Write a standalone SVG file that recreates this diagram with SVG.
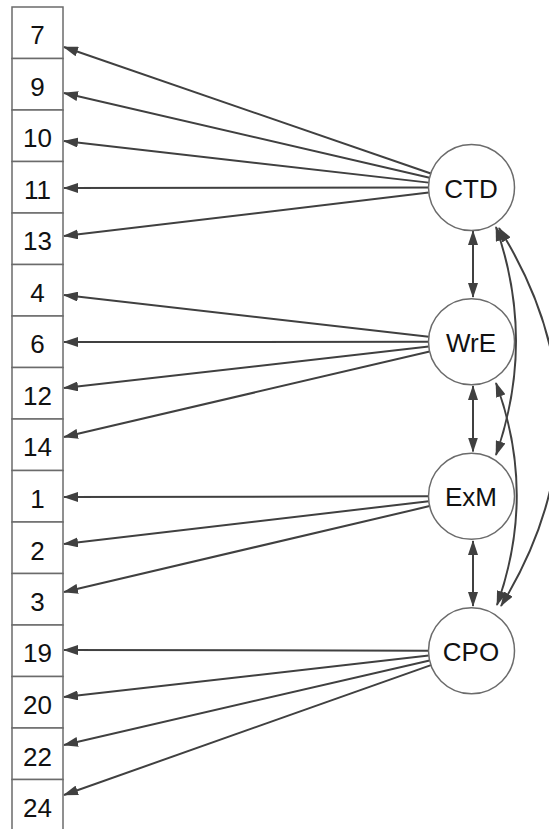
<svg xmlns="http://www.w3.org/2000/svg" width="549" height="829" viewBox="0 0 549 829">
<style>
.box{fill:#fff;stroke:#6b6b6b;stroke-width:1.5}
.lat{fill:#fff;stroke:#6b6b6b;stroke-width:1.5}
.lbl{font-family:"Liberation Sans",Arial,sans-serif;font-size:26px;fill:#111;text-anchor:middle}
.e{fill:none;stroke:#404040;stroke-width:2;marker-end:url(#ah)}
.d{fill:none;stroke:#404040;stroke-width:2;marker-start:url(#ah);marker-end:url(#ah)}
</style>
<defs>
<marker id="ah" markerUnits="userSpaceOnUse" viewBox="0 0 15 10" markerWidth="15" markerHeight="10" refX="14" refY="5" orient="auto-start-reverse">
<path d="M0,0 L15,5 L0,10 z" fill="#404040"/>
</marker>
</defs>
<rect width="549" height="829" fill="#fff"/>
<g id="connectors">
<path class="e" d="M430.84,173.48 L64,47"/>
<path class="e" d="M429.61,177.79 L64,93"/>
<path class="e" d="M428.78,182.62 L64,141"/>
<path class="e" d="M428.5,187.55 L64,188"/>
<path class="e" d="M428.8,192.58 L64,236"/>
<path class="e" d="M428.78,336.85 L64,295"/>
<path class="e" d="M428.5,341.78 L64,342"/>
<path class="e" d="M428.77,346.6 L64,388"/>
<path class="e" d="M429.63,351.54 L64,437"/>
<path class="e" d="M428.5,496.33 L64,497"/>
<path class="e" d="M428.79,501.25 L64,544"/>
<path class="e" d="M429.64,506.09 L64,592"/>
<path class="e" d="M428.5,650.67 L64,650"/>
<path class="e" d="M428.77,655.6 L64,697"/>
<path class="e" d="M429.61,660.44 L64,745"/>
<path class="e" d="M430.97,665.1 L64,795"/>
<path class="d" d="M473,231 L473,297"/>
<path class="d" d="M473,386 L473,451.5"/>
<path class="d" d="M473,541 L473,606"/>
<path class="d" d="M496,227 Q536,341 496,455"/>
<path class="d" d="M496,383 Q537,494 497,605"/>
<path class="d" d="M499,228 Q617,417 501,606"/>
</g>
<g id="n7"><rect class="box" x="12" y="7" width="51" height="51.5"/><text class="lbl" x="37.5" y="44">7</text></g>
<g id="n9"><rect class="box" x="12" y="58.5" width="51" height="51.5"/><text class="lbl" x="37.5" y="95.5">9</text></g>
<g id="n10"><rect class="box" x="12" y="110" width="51" height="51.5"/><text class="lbl" x="37.5" y="147">10</text></g>
<g id="n11"><rect class="box" x="12" y="161.5" width="51" height="51.5"/><text class="lbl" x="37.5" y="198.5">11</text></g>
<g id="n13"><rect class="box" x="12" y="213" width="51" height="51.5"/><text class="lbl" x="37.5" y="250">13</text></g>
<g id="n4"><rect class="box" x="12" y="264.5" width="51" height="51.5"/><text class="lbl" x="37.5" y="301.5">4</text></g>
<g id="n6"><rect class="box" x="12" y="316" width="51" height="51.5"/><text class="lbl" x="37.5" y="353">6</text></g>
<g id="n12"><rect class="box" x="12" y="367.5" width="51" height="51.5"/><text class="lbl" x="37.5" y="404.5">12</text></g>
<g id="n14"><rect class="box" x="12" y="419" width="51" height="51.5"/><text class="lbl" x="37.5" y="456">14</text></g>
<g id="n1"><rect class="box" x="12" y="470.5" width="51" height="51.5"/><text class="lbl" x="37.5" y="507.5">1</text></g>
<g id="n2"><rect class="box" x="12" y="522" width="51" height="51.5"/><text class="lbl" x="37.5" y="560">2</text></g>
<g id="n3"><rect class="box" x="12" y="573.5" width="51" height="51.5"/><text class="lbl" x="37.5" y="611">3</text></g>
<g id="n19"><rect class="box" x="12" y="625" width="51" height="51.5"/><text class="lbl" x="37.5" y="662">19</text></g>
<g id="n20"><rect class="box" x="12" y="676.5" width="51" height="51.5"/><text class="lbl" x="37.5" y="713.5">20</text></g>
<g id="n22"><rect class="box" x="12" y="728" width="51" height="51.5"/><text class="lbl" x="37.5" y="766">22</text></g>
<g id="n24"><rect class="box" x="12" y="779.5" width="51" height="51.5"/><text class="lbl" x="37.5" y="817">24</text></g>
<g id="CTD"><circle class="lat" cx="471.5" cy="187.5" r="43"/><text class="lbl" x="471" y="197.5">CTD</text></g>
<g id="WrE"><circle class="lat" cx="471.5" cy="341.75" r="43"/><text class="lbl" x="471" y="351.5">WrE</text></g>
<g id="ExM"><circle class="lat" cx="471.5" cy="496.25" r="43"/><text class="lbl" x="471" y="506">ExM</text></g>
<g id="CPO"><circle class="lat" cx="471.5" cy="650.75" r="43"/><text class="lbl" x="471" y="660.5">CPO</text></g>
</svg>
